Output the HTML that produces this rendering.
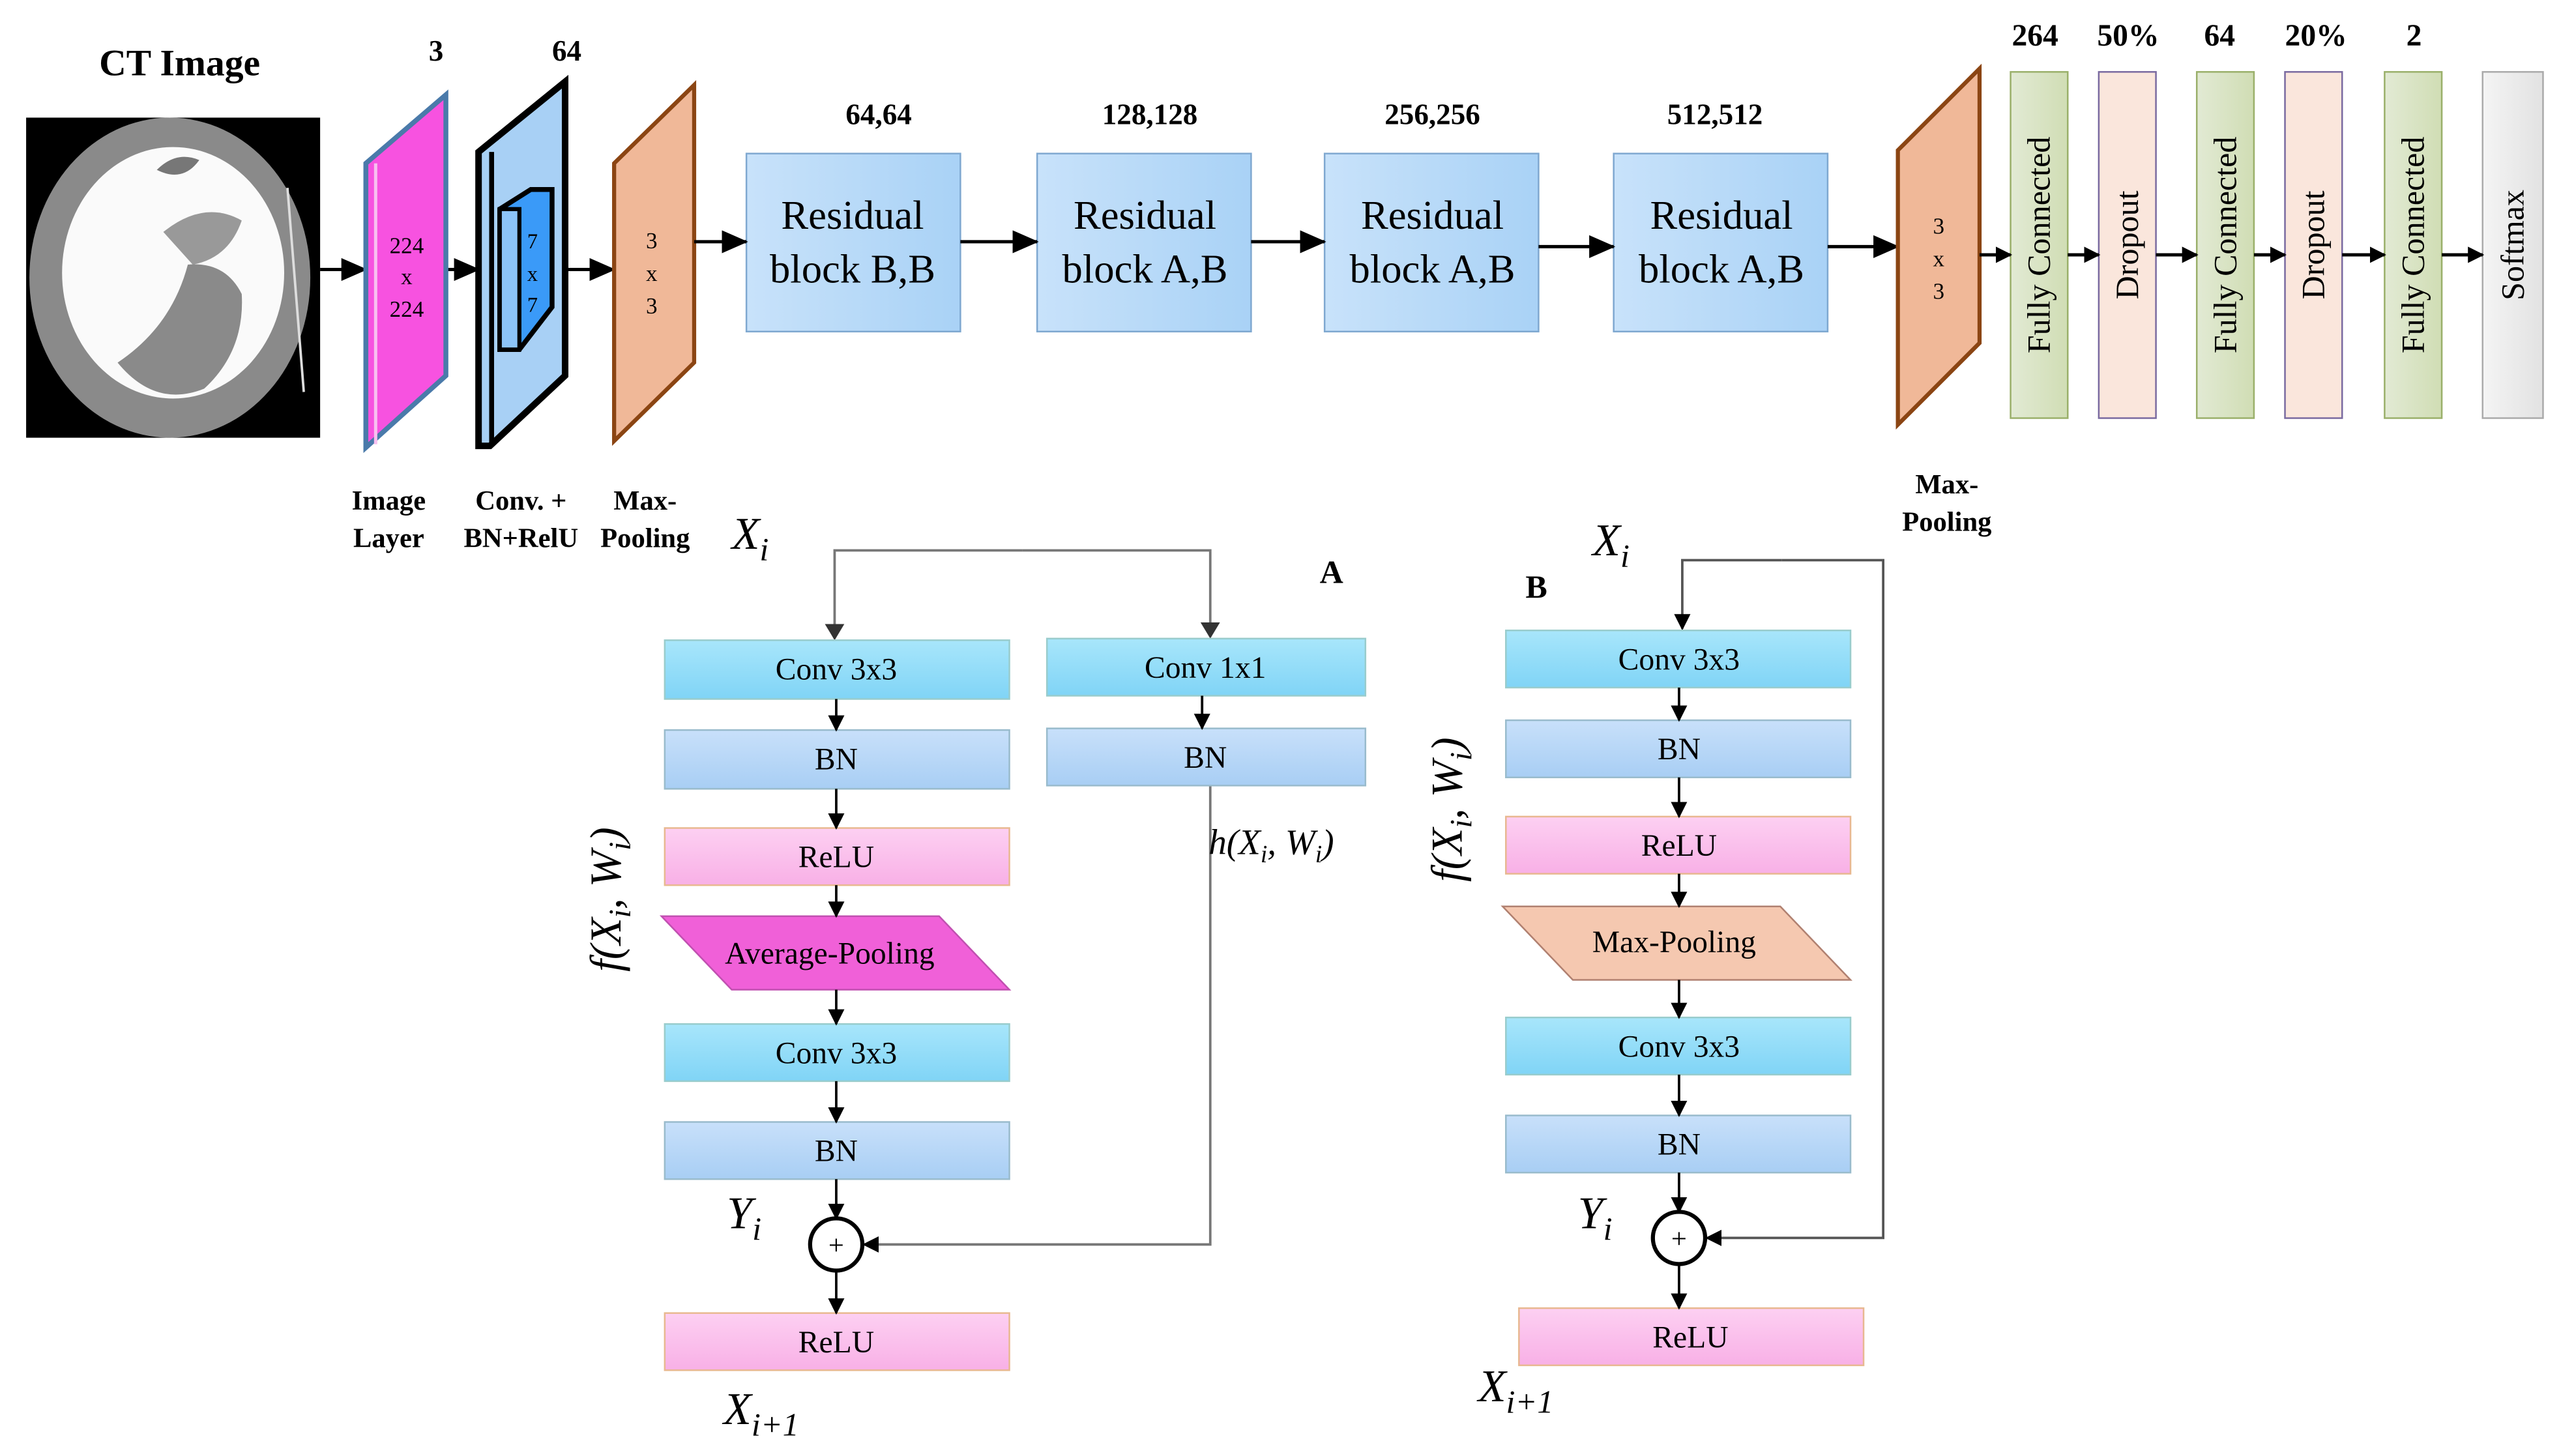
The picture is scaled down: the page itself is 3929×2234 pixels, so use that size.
<!DOCTYPE html>
<html><head><meta charset="utf-8"><style>html,body{margin:0;padding:0;background:#fff}svg{display:block}</style></head>
<body>
<svg xmlns="http://www.w3.org/2000/svg" width="3929" height="2234" viewBox="0 0 1568 891.5" font-family="Liberation Serif, serif">
<defs>
<marker id="ar" markerWidth="10" markerHeight="10" refX="9" refY="5" orient="auto" markerUnits="userSpaceOnUse"><path d="M0,0 L10,5 L0,10 Z" fill="#000"/></marker>
<marker id="big" markerWidth="16" markerHeight="14" refX="15" refY="7" orient="auto" markerUnits="userSpaceOnUse"><path d="M0,0 L16,7 L0,14 Z" fill="#000"/></marker>
<marker id="g" markerWidth="10" markerHeight="12" refX="9" refY="6" orient="auto" markerUnits="userSpaceOnUse"><path d="M0,0 L10,6 L0,12 Z" fill="#333"/></marker>
<linearGradient id="res" x1="0" x2="1"><stop offset="0" stop-color="#c8e2fa"/><stop offset="1" stop-color="#a9d2f6"/></linearGradient>
<linearGradient id="fc" x1="0" x2="1"><stop offset="0" stop-color="#e2ead4"/><stop offset="1" stop-color="#d0ddb4"/></linearGradient>
<linearGradient id="sm" x1="0" x2="1"><stop offset="0" stop-color="#f4f4f4"/><stop offset="1" stop-color="#e2e2e2"/></linearGradient>
<linearGradient id="cv" x1="0" y1="0" x2="0" y2="1"><stop offset="0" stop-color="#a8e6fb"/><stop offset="1" stop-color="#80d4f6"/></linearGradient>
<linearGradient id="bn" x1="0" y1="0" x2="0" y2="1"><stop offset="0" stop-color="#c8e0fa"/><stop offset="1" stop-color="#a8cef4"/></linearGradient>
<linearGradient id="rl" x1="0" y1="0" x2="0" y2="1"><stop offset="0" stop-color="#fdd0f2"/><stop offset="1" stop-color="#f8b0e6"/></linearGradient>
</defs>

<!-- CT image -->
<text x="110" y="46" font-size="23" font-weight="bold" text-anchor="middle">CT Image</text>
<rect x="16" y="72" width="180" height="196" fill="#000"/>
<ellipse cx="104" cy="170" rx="86" ry="98" fill="#8a8a8a"/>
<ellipse cx="106" cy="167" rx="68" ry="77" fill="#fafafa"/>
<path d="M72,222 Q95,250 125,238 Q150,215 148,180 Q138,160 115,162 Q105,200 72,222 Z" fill="#8a8a8a"/>
<path d="M100,142 Q125,122 148,135 Q140,158 118,162 Z" fill="#999"/>
<path d="M96,104 Q108,92 122,98 Q112,112 96,104 Z" fill="#777"/>
<line x1="176" y1="115" x2="186" y2="240" stroke="#ddd" stroke-width="1.5"/>

<text x="267" y="37" font-size="18" font-weight="bold" text-anchor="middle">3</text>
<text x="347" y="37" font-size="18" font-weight="bold" text-anchor="middle">64</text>

<line x1="196" y1="165" x2="224" y2="165" stroke="#000" stroke-width="2" marker-end="url(#big)"/>
<line x1="273" y1="165" x2="293" y2="165" stroke="#000" stroke-width="2" marker-end="url(#big)"/>
<line x1="347" y1="165" x2="376" y2="165" stroke="#000" stroke-width="2" marker-end="url(#big)"/>

<polygon points="224,100 273,58 273,230 224,274" fill="#f752e0" stroke="#4a7aaa" stroke-width="3"/>
<line x1="230" y1="100" x2="230" y2="272" stroke="#f8c0f0" stroke-width="2"/>
<text x="249" y="155" font-size="14" text-anchor="middle">224</text>
<text x="249" y="174" font-size="14" text-anchor="middle">x</text>
<text x="249" y="194" font-size="14" text-anchor="middle">224</text>

<polygon points="293,93 346,50 346,230 300,273 293,273" fill="#a8d0f5" stroke="#000" stroke-width="4"/>
<line x1="301" y1="93" x2="301" y2="273" stroke="#000" stroke-width="3"/>
<polygon points="306,128 325,116 338,116 338,188 318,214 306,214" fill="#3a9af8" stroke="#000" stroke-width="3"/>
<rect x="306" y="128" width="12" height="86" fill="#8cc4f8" stroke="#000" stroke-width="2.5"/>
<text x="326" y="152" font-size="13" text-anchor="middle">7</text>
<text x="326" y="172" font-size="13" text-anchor="middle">x</text>
<text x="326" y="191" font-size="13" text-anchor="middle">7</text>

<polygon points="376,100 425,52 425,222 376,270" fill="#f0b898" stroke="#8b4513" stroke-width="2.5"/>
<text x="399" y="152" font-size="14" text-anchor="middle">3</text>
<text x="399" y="172" font-size="14" text-anchor="middle">x</text>
<text x="399" y="192" font-size="14" text-anchor="middle">3</text>

<g font-size="17" font-weight="bold" text-anchor="middle">
<text x="238" y="312">Image</text><text x="238" y="335">Layer</text>
<text x="319" y="312">Conv. +</text><text x="319" y="335">BN+RelU</text>
<text x="395" y="312">Max-</text><text x="395" y="335">Pooling</text>
<text x="1192" y="302">Max-</text><text x="1192" y="325">Pooling</text>
</g>

<g font-size="18" font-weight="bold" text-anchor="middle">
<text x="538" y="76">64,64</text><text x="704" y="76">128,128</text><text x="877" y="76">256,256</text><text x="1050" y="76">512,512</text>
</g>
<g fill="url(#res)" stroke="#7fa8d0" stroke-width="1">
<rect x="457" y="94" width="131" height="109"/>
<rect x="635" y="94" width="131" height="109"/>
<rect x="811" y="94" width="131" height="109"/>
<rect x="988" y="94" width="131" height="109"/>
</g>
<g font-size="25" text-anchor="middle">
<text x="522" y="140">Residual</text><text x="522" y="173">block B,B</text>
<text x="701" y="140">Residual</text><text x="701" y="173">block A,B</text>
<text x="877" y="140">Residual</text><text x="877" y="173">block A,B</text>
<text x="1054" y="140">Residual</text><text x="1054" y="173">block A,B</text>
</g>
<g stroke="#000" stroke-width="2">
<line x1="425" y1="148" x2="457" y2="148" marker-end="url(#big)"/>
<line x1="588" y1="148" x2="635" y2="148" marker-end="url(#big)"/>
<line x1="766" y1="148" x2="811" y2="148" marker-end="url(#big)"/>
<line x1="942" y1="151" x2="988" y2="151" marker-end="url(#big)"/>
<line x1="1119" y1="151" x2="1162" y2="151" marker-end="url(#big)"/>
</g>

<polygon points="1162,92 1212,42 1212,210 1162,260" fill="#f0b898" stroke="#8b4513" stroke-width="2.5"/>
<text x="1187" y="143" font-size="14" text-anchor="middle">3</text>
<text x="1187" y="163" font-size="14" text-anchor="middle">x</text>
<text x="1187" y="183" font-size="14" text-anchor="middle">3</text>

<g font-size="19" font-weight="bold" text-anchor="middle">
<text x="1246" y="28">264</text><text x="1303" y="28">50%</text><text x="1359" y="28">64</text><text x="1418" y="28">20%</text><text x="1478" y="28">2</text>
</g>
<rect x="1231" y="44" width="35" height="212" fill="url(#fc)" stroke="#9ab06a"/>
<rect x="1285" y="44" width="35" height="212" fill="#fae6dc" stroke="#7a6aa0"/>
<rect x="1345" y="44" width="35" height="212" fill="url(#fc)" stroke="#9ab06a"/>
<rect x="1399" y="44" width="35" height="212" fill="#fae6dc" stroke="#7a6aa0"/>
<rect x="1460" y="44" width="35" height="212" fill="url(#fc)" stroke="#9ab06a"/>
<rect x="1520" y="44" width="37" height="212" fill="url(#sm)" stroke="#aaa"/>
<g font-size="20" text-anchor="middle">
<text transform="translate(1255,150) rotate(-90)">Fully Connected</text>
<text transform="translate(1309,150) rotate(-90)">Dropout</text>
<text transform="translate(1369,150) rotate(-90)">Fully Connected</text>
<text transform="translate(1423,150) rotate(-90)">Dropout</text>
<text transform="translate(1484,150) rotate(-90)">Fully Connected</text>
<text transform="translate(1545,150) rotate(-90)">Softmax</text>
</g>
<g stroke="#000" stroke-width="2">
<line x1="1212" y1="156" x2="1231" y2="156" marker-end="url(#ar)"/>
<line x1="1266" y1="156" x2="1285" y2="156" marker-end="url(#ar)"/>
<line x1="1320" y1="156" x2="1345" y2="156" marker-end="url(#ar)"/>
<line x1="1380" y1="156" x2="1399" y2="156" marker-end="url(#ar)"/>
<line x1="1434" y1="156" x2="1460" y2="156" marker-end="url(#ar)"/>
<line x1="1495" y1="156" x2="1520" y2="156" marker-end="url(#ar)"/>
</g>

<!-- Block A -->
<text x="448" y="336" font-size="28" font-style="italic">X<tspan font-size="20" dy="7">i</tspan></text>
<text x="808" y="357" font-size="20" font-weight="bold">A</text>
<polyline points="626,337 511,337 511,391" fill="none" stroke="#777" stroke-width="1.5" marker-end="url(#g)"/>
<polyline points="626,337 741,337 741,390" fill="none" stroke="#777" stroke-width="1.5" marker-end="url(#g)"/>
<polyline points="741,481 741,762 529,762" fill="none" stroke="#777" stroke-width="1.5" marker-end="url(#ar)"/>
<g stroke="#e8b890" stroke-width="1">
<rect x="407" y="392" width="211" height="36" fill="url(#cv)" stroke="#9cc"/>
<rect x="407" y="447" width="211" height="36" fill="url(#bn)" stroke="#9bc"/>
<rect x="407" y="507" width="211" height="35" fill="url(#rl)"/>
<polygon points="405,561 575,561 618,606 448,606" fill="#f060d8" stroke="#c050b0"/>
<rect x="407" y="627" width="211" height="35" fill="url(#cv)" stroke="#9cc"/>
<rect x="407" y="687" width="211" height="35" fill="url(#bn)" stroke="#9bc"/>
<rect x="407" y="804" width="211" height="35" fill="url(#rl)"/>
<rect x="641" y="391" width="195" height="35" fill="url(#cv)" stroke="#9cc"/>
<rect x="641" y="446" width="195" height="35" fill="url(#bn)" stroke="#9bc"/>
</g>
<g font-size="19" text-anchor="middle">
<text x="512" y="416">Conv 3x3</text><text x="512" y="471">BN</text><text x="512" y="531">ReLU</text>
<text x="508" y="590">Average-Pooling</text><text x="512" y="651">Conv 3x3</text><text x="512" y="711">BN</text>
<text x="512" y="828">ReLU</text><text x="738" y="415">Conv 1x1</text><text x="738" y="470">BN</text>
</g>
<g stroke="#000" stroke-width="1.5">
<line x1="512" y1="428" x2="512" y2="447" marker-end="url(#ar)"/>
<line x1="512" y1="483" x2="512" y2="507" marker-end="url(#ar)"/>
<line x1="512" y1="542" x2="512" y2="561" marker-end="url(#ar)"/>
<line x1="512" y1="606" x2="512" y2="627" marker-end="url(#ar)"/>
<line x1="512" y1="662" x2="512" y2="687" marker-end="url(#ar)"/>
<line x1="512" y1="722" x2="512" y2="746" marker-end="url(#ar)"/>
<line x1="512" y1="778" x2="512" y2="804" marker-end="url(#ar)"/>
<line x1="736" y1="426" x2="736" y2="446" marker-end="url(#ar)"/>
</g>
<circle cx="512" cy="762" r="16" fill="#fff" stroke="#000" stroke-width="2.5"/>
<text x="512" y="768" font-size="17" text-anchor="middle">+</text>
<text x="740" y="523" font-size="22" font-style="italic">h(X<tspan font-size="15" dy="5">i</tspan><tspan dy="-5">, W</tspan><tspan font-size="15" dy="5">i</tspan><tspan dy="-5">)</tspan></text>
<text transform="translate(380,595) rotate(-90)" font-size="27" font-style="italic">f(X<tspan font-size="19" dy="6">i</tspan><tspan dy="-6">, W</tspan><tspan font-size="19" dy="6">i</tspan><tspan dy="-6">)</tspan></text>
<text x="445" y="752" font-size="28" font-style="italic">Y<tspan font-size="20" dy="7">i</tspan></text>
<text x="443" y="872" font-size="28" font-style="italic">X<tspan font-size="20" dy="7">i+1</tspan></text>

<!-- Block B -->
<text x="975" y="340" font-size="28" font-style="italic">X<tspan font-size="20" dy="7">i</tspan></text>
<text x="934" y="366" font-size="20" font-weight="bold">B</text>
<polyline points="1091,343 1030,343 1030,385" fill="none" stroke="#555" stroke-width="1.5" marker-end="url(#ar)"/>
<polyline points="1091,343 1153,343 1153,758 1045,758" fill="none" stroke="#555" stroke-width="1.5" marker-end="url(#ar)"/>
<g stroke="#e8b890" stroke-width="1">
<rect x="922" y="386" width="211" height="35" fill="url(#cv)" stroke="#9cc"/>
<rect x="922" y="441" width="211" height="35" fill="url(#bn)" stroke="#9bc"/>
<rect x="922" y="500" width="211" height="35" fill="url(#rl)"/>
<polygon points="920,555 1090,555 1133,600 963,600" fill="#f5c8b0" stroke="#b08070"/>
<rect x="922" y="623" width="211" height="35" fill="url(#cv)" stroke="#9cc"/>
<rect x="922" y="683" width="211" height="35" fill="url(#bn)" stroke="#9bc"/>
<rect x="930" y="801" width="211" height="35" fill="url(#rl)"/>
</g>
<g font-size="19" text-anchor="middle">
<text x="1028" y="410">Conv 3x3</text><text x="1028" y="465">BN</text><text x="1028" y="524">ReLU</text>
<text x="1025" y="583">Max-Pooling</text><text x="1028" y="647">Conv 3x3</text><text x="1028" y="707">BN</text>
<text x="1035" y="825">ReLU</text>
</g>
<g stroke="#000" stroke-width="1.5">
<line x1="1028" y1="421" x2="1028" y2="441" marker-end="url(#ar)"/>
<line x1="1028" y1="476" x2="1028" y2="500" marker-end="url(#ar)"/>
<line x1="1028" y1="535" x2="1028" y2="555" marker-end="url(#ar)"/>
<line x1="1028" y1="600" x2="1028" y2="623" marker-end="url(#ar)"/>
<line x1="1028" y1="658" x2="1028" y2="683" marker-end="url(#ar)"/>
<line x1="1028" y1="718" x2="1028" y2="742" marker-end="url(#ar)"/>
<line x1="1028" y1="774" x2="1028" y2="801" marker-end="url(#ar)"/>
</g>
<circle cx="1028" cy="758" r="16" fill="#fff" stroke="#000" stroke-width="2.5"/>
<text x="1028" y="764" font-size="17" text-anchor="middle">+</text>
<text transform="translate(895,540) rotate(-90)" font-size="27" font-style="italic">f(X<tspan font-size="19" dy="6">i</tspan><tspan dy="-6">, W</tspan><tspan font-size="19" dy="6">i</tspan><tspan dy="-6">)</tspan></text>
<text x="966" y="752" font-size="28" font-style="italic">Y<tspan font-size="20" dy="7">i</tspan></text>
<text x="905" y="858" font-size="28" font-style="italic">X<tspan font-size="20" dy="7">i+1</tspan></text>
</svg>
</body></html>
